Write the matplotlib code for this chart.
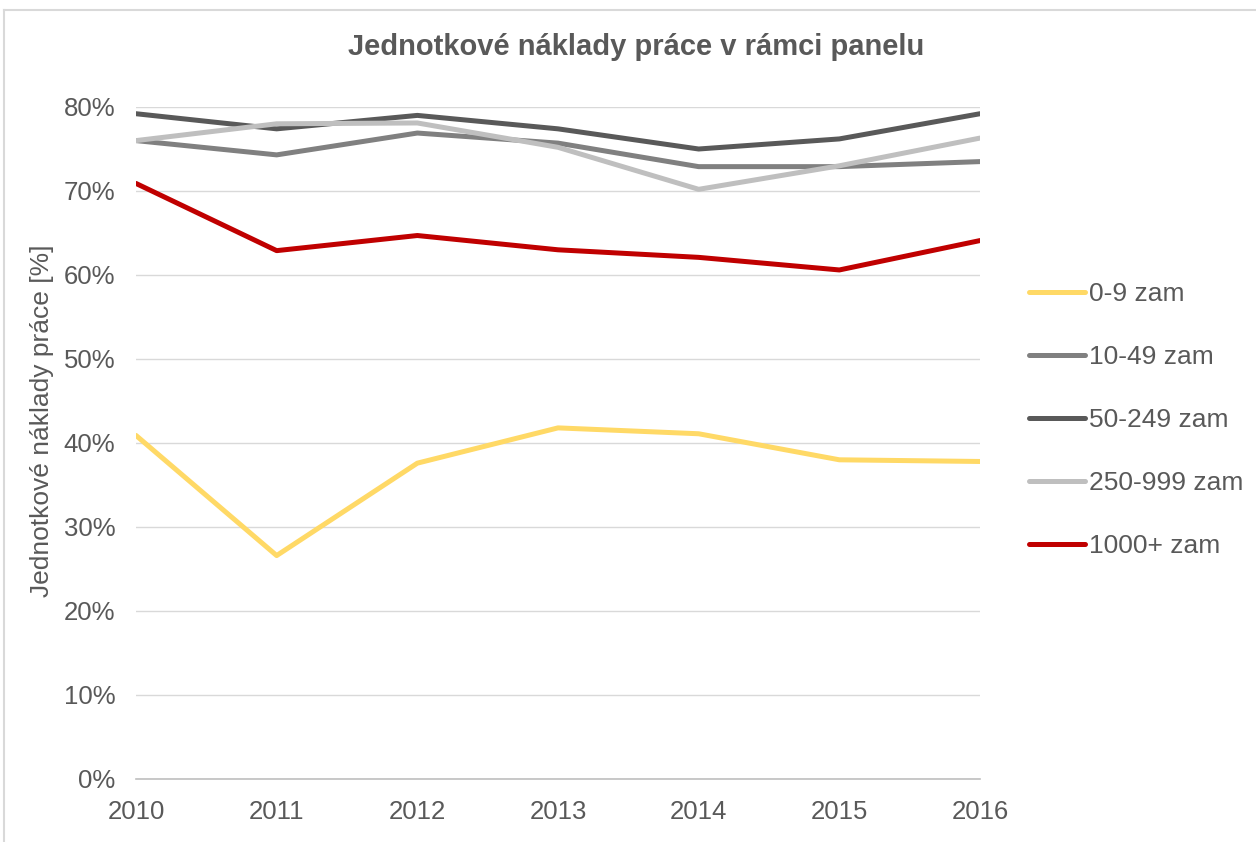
import matplotlib
matplotlib.use("Agg")
import matplotlib.pyplot as plt
from matplotlib.lines import Line2D
from matplotlib.ticker import PercentFormatter

plt.rcParams["font.family"] = ["Liberation Sans", "DejaVu Sans"]

years = [2010, 2011, 2012, 2013, 2014, 2015, 2016]
labels = ["0-9 zam", "10-49 zam", "50-249 zam", "250-999 zam", "1000+ zam"]
s_0_9 = [40.9, 26.6, 37.6, 41.8, 41.1, 38.0, 37.8]
s_10_49 = [76.0, 74.3, 76.9, 75.7, 72.9, 72.9, 73.5]
s_50_249 = [79.2, 77.4, 79.0, 77.4, 75.0, 76.2, 79.2]
s_250_999 = [76.0, 78.0, 78.1, 75.2, 70.2, 73.0, 76.3]
s_1000 = [70.9, 62.9, 64.7, 63.0, 62.1, 60.6, 64.1]
colors = ["#FFD966", "#808080", "#595959", "#BFBFBF", "#C00000"]

TXT = "#595959"
FS = 18.5
LFS = 19

W, H = 1256, 842
fig = plt.figure(figsize=(W / 100, H / 100), dpi=100)
ax = fig.add_axes([136 / W, 1 - 779 / H, (980 - 136) / W, (779 - 107) / H])

series = [s_0_9, s_10_49, s_50_249, s_250_999, s_1000]
for vals, c, lab in zip(series, colors, labels):
    ax.plot(years, vals, color=c, lw=3.6, label=lab, solid_capstyle="round", zorder=3)

ax.set_xlim(years[0], years[-1])
ax.set_ylim(0, 80)
ax.set_yticks(range(0, 81, 10))
ax.yaxis.set_major_formatter(PercentFormatter(decimals=0))
ax.set_xticks(years)
ax.grid(axis="y", color="#D9D9D9", lw=1)
ax.set_axisbelow(True)
for side in ["top", "right", "left"]:
    ax.spines[side].set_visible(False)
ax.spines["bottom"].set_color("#BFBFBF")
ax.spines["bottom"].set_linewidth(1.2)
ax.tick_params(length=0, labelsize=FS, colors=TXT)
ax.tick_params(axis="y", pad=15)
ax.tick_params(axis="x", pad=15)

ax.set_ylabel("Jednotkové náklady práce [%]", fontsize=LFS, color=TXT, labelpad=7)
ax.yaxis.label.set_y(0.533)
fig.text((345 + 928) / 2 / W, 1 - 47 / H, "Jednotkové náklady práce v rámci panelu",
         ha="center", va="center", fontsize=21, fontweight="bold", color=TXT)

handles = [Line2D([], [], color=c, lw=3.6, solid_capstyle="round") for c in colors]
leg = fig.legend(handles, labels, loc="center left", bbox_to_anchor=(1005 / W, 1 - 420 / H),
                 frameon=False, fontsize=LFS, handlelength=2.12, handletextpad=0.15,
                 labelspacing=1.48)
for t in leg.get_texts():
    t.set_color(TXT)

# chart area border (top & left visible in the crop)
fig.add_artist(Line2D([4 / W, 1], [1 - 10 / H, 1 - 10 / H], color="#D9D9D9", lw=1.5,
                      transform=fig.transFigure))
fig.add_artist(Line2D([4 / W, 4 / W], [0, 1 - 10 / H], color="#D9D9D9", lw=1.5,
                      transform=fig.transFigure))

fig.savefig("out.png", dpi=100)
